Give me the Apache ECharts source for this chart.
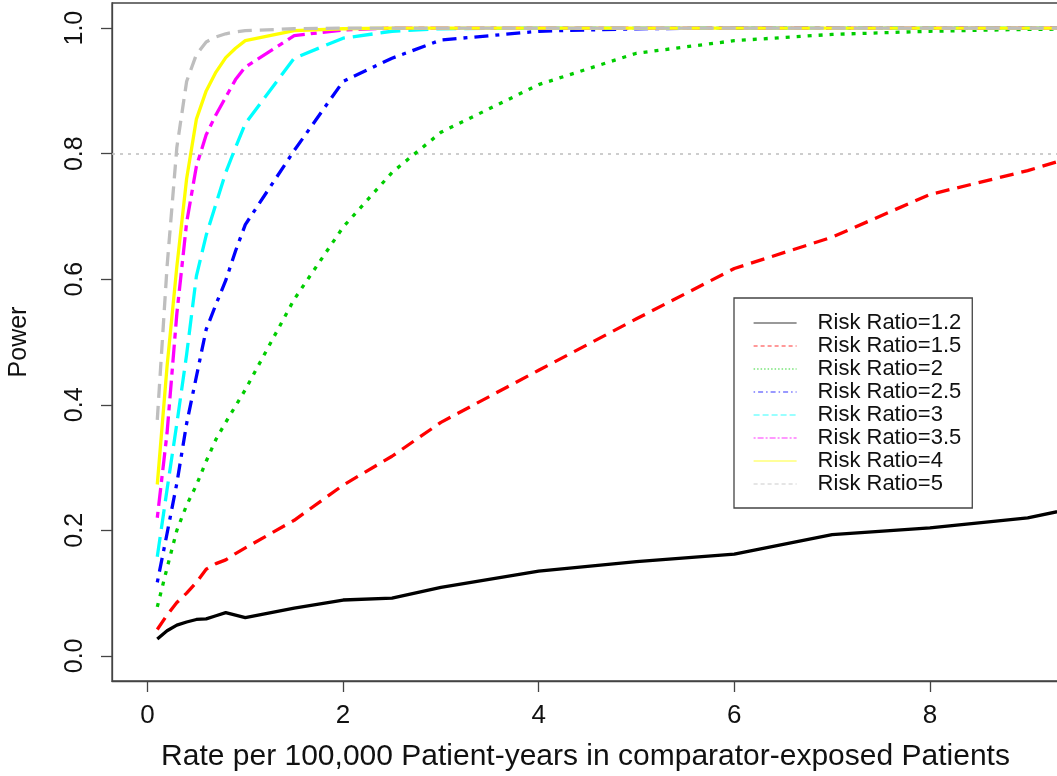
<!DOCTYPE html>
<html>
<head>
<meta charset="utf-8">
<script src="https://cdn.jsdelivr.net/npm/echarts@6/dist/echarts.min.js"></script>
<style>
html,body{margin:0;padding:0;background:#fff;}
#chart{width:1057px;height:776px;}
</style>
</head>
<body>
<div id="chart"></div>
<script>
const rates = [0.1,0.2,0.3,0.4,0.5,0.6,0.7,0.8,0.9,1,1.5,2,2.5,3,4,5,6,7,8,9,10];
const rr12 = [0.027,0.040,0.049,0.054,0.058,0.059,0.064,0.069,0.065,0.061,0.076,0.089,0.092,0.109,0.135,0.150,0.162,0.193,0.204,0.220,0.252];
const rr15 = [0.042,0.065,0.085,0.100,0.117,0.138,0.147,0.153,0.163,0.172,0.216,0.272,0.318,0.372,0.455,0.537,0.617,0.667,0.735,0.773,0.820];
const rr2  = [0.078,0.140,0.200,0.240,0.272,0.310,0.345,0.372,0.398,0.424,0.568,0.683,0.770,0.834,0.910,0.960,0.980,0.990,0.995,0.998,0.999];
const rr25 = [0.117,0.195,0.275,0.370,0.445,0.520,0.560,0.598,0.645,0.687,0.805,0.915,0.952,0.981,0.995,0.999,1,1,1,1,1];
const rr3  = [0.158,0.265,0.370,0.480,0.605,0.670,0.720,0.770,0.810,0.848,0.952,0.984,0.995,0.999,1,1,1,1,1,1,1];
const rr35 = [0.220,0.355,0.545,0.690,0.780,0.830,0.862,0.890,0.918,0.938,0.988,0.997,1,1,1,1,1,1,1,1,1];
const rr4  = [0.273,0.461,0.620,0.760,0.855,0.900,0.930,0.953,0.968,0.980,0.996,0.999,1,1,1,1,1,1,1,1,1];
const rr5  = [0.376,0.620,0.810,0.915,0.958,0.978,0.986,0.991,0.994,0.996,0.999,1,1,1,1,1,1,1,1,1,1];
const seriesNames = ["Risk Ratio=1.2","Risk Ratio=1.5","Risk Ratio=2","Risk Ratio=2.5","Risk Ratio=3","Risk Ratio=3.5","Risk Ratio=4","Risk Ratio=5"];
const xTicks = [0,2,4,6,8];
const yTicks = [0,0.2,0.4,0.6,0.8,1.0];
const refPower = 0.8;
const xTitle = "Rate per 100,000 Patient-years in comparator-exposed Patients";
const yTitle = "Power";

const values = [rr12, rr15, rr2, rr25, rr3, rr35, rr4, rr5];
const colors = ['#000000','#ff0000','#00cd00','#0000ff','#00ffff','#ff00ff','#ffff00','#bebebe'];
const dashes = ['solid',[14,8],[4,7],[4,7,14,7],[20,8],[6,6,18,6],'solid',[14,8]];
const legendDashes = ['solid',[4,3],[1.5,2],[1.5,3,5,3],[6,3],[2,2,6,2],'solid',[4,3]];
const FONT = "'Liberation Sans', Arial, Helvetica, sans-serif";
const AX = '#444';

const series = values.map((vals, i) => {
  const s = {
    name: seriesNames[i],
    type: 'line',
    data: rates.map((x, j) => [x, vals[j]]),
    symbol: 'none',
    showSymbol: false,
    clip: true,
    lineStyle: { color: colors[i], width: 3.3, type: dashes[i], cap: 'butt', join: 'round' },
    itemStyle: { color: colors[i] },
    z: 2 + i
  };
  if (i === 0) {
    s.markLine = {
      silent: true,
      symbol: 'none',
      label: { show: false },
      lineStyle: { color: '#bdbdbd', type: [3,5], width: 1.5 },
      data: [{ yAxis: refPower }],
      z: 1
    };
  }
  return s;
});

const chart = echarts.init(document.getElementById('chart'), null, { renderer: 'canvas' });
chart.setOption({
  animation: false,
  backgroundColor: '#fff',
  grid: {
    left: 112, top: 3, right: -2, bottom: 95,
    containLabel: false, outerBoundsMode: 'none',
    show: true, borderColor: AX, borderWidth: 1.3, backgroundColor: 'transparent'
  },
  xAxis: {
    type: 'value', min: -0.363, max: 9.32,
    name: xTitle, nameLocation: 'middle', nameGap: 61,
    nameTextStyle: { fontFamily: FONT, fontSize: 30, color: '#111' },
    axisLine: { show: true, onZero: false, lineStyle: { color: AX, width: 1.3 } },
    axisTick: { show: true, inside: false, length: 11, lineStyle: { color: AX, width: 1.3 }, customValues: xTicks },
    axisLabel: { show: true, customValues: xTicks, margin: 22, fontFamily: FONT, fontSize: 26, color: '#111',
                 formatter: v => String(Math.round(v)) },
    splitLine: { show: false }
  },
  yAxis: {
    type: 'value', min: -0.04, max: 1.04,
    name: yTitle, nameLocation: 'middle', nameGap: 80, nameRotate: 90,
    nameTextStyle: { fontFamily: FONT, fontSize: 25, color: '#111' },
    axisLine: { show: true, onZero: false, lineStyle: { color: AX, width: 1.3 } },
    axisTick: { show: true, inside: false, length: 11, lineStyle: { color: AX, width: 1.3 }, customValues: yTicks },
    axisLabel: { show: true, customValues: yTicks, rotate: 90, margin: 24, fontFamily: FONT, fontSize: 25, color: '#111',
                 formatter: v => v.toFixed(1) },
    splitLine: { show: false }
  },
  legend: {
    show: true, orient: 'vertical', left: 734, top: 298,
    padding: [14, 11, 13, 19],
    itemWidth: 43, itemHeight: 12, itemGap: 1,
    backgroundColor: '#fff', borderColor: AX, borderWidth: 1.3, borderRadius: 0,
    selectedMode: false,
    itemStyle: { opacity: 0 },
    textStyle: { fontFamily: FONT, fontSize: 22, color: '#111', padding: [0,0,0,16], lineHeight: 22 },
    data: seriesNames.map((n, i) => ({
      name: n,
      itemStyle: { opacity: 0 },
      lineStyle: { width: 1.2, type: legendDashes[i], color: colors[i], opacity: 0.8 }
    }))
  },
  series: series
});
</script>
</body>
</html>
